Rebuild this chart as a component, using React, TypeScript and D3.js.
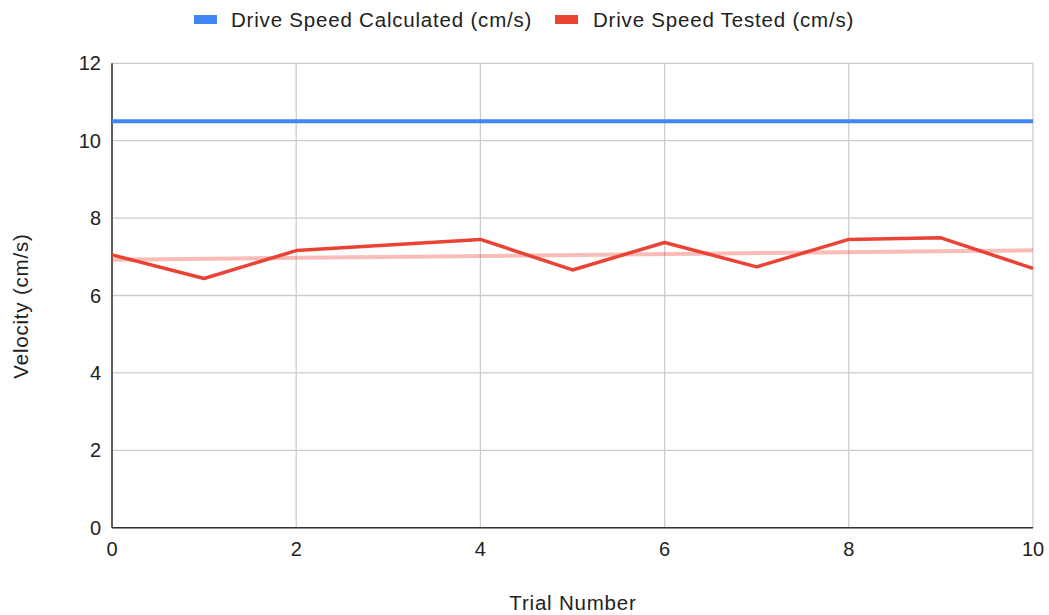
import React from "react";
import * as d3 from "d3";

const trialX = [0, 1, 2, 4, 5, 6, 7, 8, 9, 10];
const testedSpeed = [7.05, 6.44, 7.16, 7.45, 6.66, 7.37, 6.74, 7.45, 7.49, 6.7];
const calcX = [0, 10];
const calcSpeed = [10.5, 10.5];
const xTicks = [0, 2, 4, 6, 8, 10];
const yTicks = [0, 2, 4, 6, 8, 10, 12];
const seriesNames = ["Drive Speed Calculated (cm/s)", "Drive Speed Tested (cm/s)"];
const seriesColors = ["#4285F4", "#EA4335"];

const W = 1049;
const H = 615;
const M = { left: 112, right: 1033, top: 63.3, bottom: 527.7 };
const FONT = "Arial, 'Liberation Sans', sans-serif";

export default function App() {
  const x = d3.scaleLinear().domain([0, 10]).range([M.left, M.right]);
  const y = d3.scaleLinear().domain([0, 12]).range([M.bottom, M.top]);

  const tested = trialX.map((t, i) => [t, testedSpeed[i]] as [number, number]);
  const calc = calcX.map((t, i) => [t, calcSpeed[i]] as [number, number]);
  const line = d3.line<[number, number]>().x((d) => x(d[0])).y((d) => y(d[1]));

  // linear regression trendline of tested data
  const mx = d3.mean(trialX)!;
  const my = d3.mean(testedSpeed)!;
  let sxy = 0, sxx = 0;
  trialX.forEach((t, i) => {
    sxy += (t - mx) * (testedSpeed[i] - my);
    sxx += (t - mx) * (t - mx);
  });
  const slope = sxy / sxx;
  const icpt = my - slope * mx;
  const trend: [number, number][] = [0, 10].map((t) => [t, icpt + slope * t]);

  const labelStyle = { letterSpacing: "0.8px" };

  return (
    <svg width={W} height={H} style={{ position: "absolute", left: 0, top: 0, background: "#fff" }}>
      <rect x={0} y={0} width={W} height={H} fill="#fff" />
      {/* grid */}
      {yTicks.map((t) => (
        <line key={"gy" + t} x1={M.left} x2={M.right} y1={y(t)} y2={y(t)} stroke="#cccccc" strokeWidth={1.3} />
      ))}
      {xTicks.map((t) => (
        <line key={"gx" + t} x1={x(t)} x2={x(t)} y1={M.top} y2={M.bottom} stroke="#cccccc" strokeWidth={1.3} />
      ))}
      {/* axes */}
      <line x1={M.left} x2={M.left} y1={M.top} y2={M.bottom} stroke="#333" strokeWidth={1.5} />
      <line x1={M.left} x2={M.right} y1={M.bottom} y2={M.bottom} stroke="#333" strokeWidth={1.5} />
      {/* tick labels */}
      {yTicks.map((t) => (
        <text key={"ty" + t} x={101} y={y(t)} dy="0.35em" textAnchor="end" fontFamily={FONT} fontSize={20} fill="#222">
          {t}
        </text>
      ))}
      {xTicks.map((t) => (
        <text key={"tx" + t} x={x(t)} y={549} dy="0.35em" textAnchor="middle" fontFamily={FONT} fontSize={20} fill="#222">
          {t}
        </text>
      ))}
      {/* series */}
      <path d={line(calc)!} fill="none" stroke={seriesColors[0]} strokeWidth={4} />
      <path d={line(trend)!} fill="none" stroke={seriesColors[1]} strokeOpacity={0.35} strokeWidth={4} />
      <path d={line(tested)!} fill="none" stroke={seriesColors[1]} strokeWidth={3.5} strokeLinejoin="round" />
      {/* axis titles */}
      <text x={573} y={603} dy="0.35em" textAnchor="middle" fontFamily={FONT} fontSize={20.5} fill="#222" style={labelStyle}>
        Trial Number
      </text>
      <text transform={`translate(21,306) rotate(-90)`} dy="0.35em" textAnchor="middle" fontFamily={FONT} fontSize={20.5} fill="#222" style={labelStyle}>
        Velocity (cm/s)
      </text>
      {/* legend */}
      <rect x={194} y={15} width={23} height={9} fill={seriesColors[0]} />
      <text x={231} y={20} dy="0.35em" fontFamily={FONT} fontSize={20.5} fill="#222" style={labelStyle}>
        {seriesNames[0]}
      </text>
      <rect x={555} y={15} width={23} height={9} fill={seriesColors[1]} />
      <text x={593} y={20} dy="0.35em" fontFamily={FONT} fontSize={20.5} fill="#222" style={labelStyle}>
        {seriesNames[1]}
      </text>
    </svg>
  );
}
